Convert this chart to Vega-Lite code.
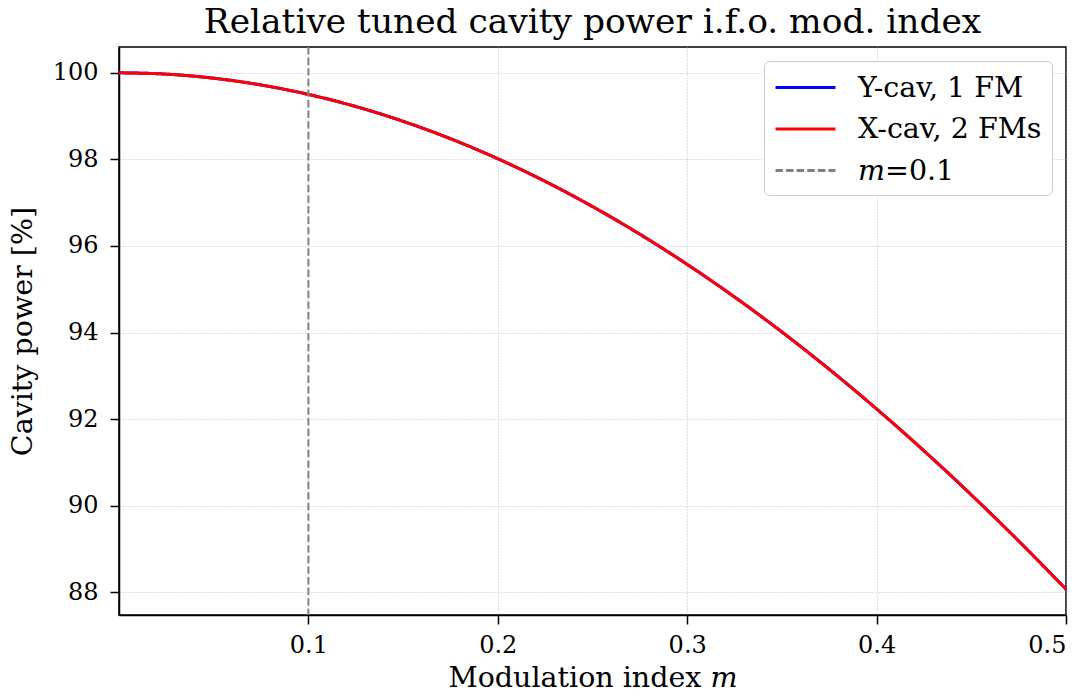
{
  "$schema": "https://vega.github.io/schema/vega-lite/v6.json",
  "autosize": "none",
  "padding": {"left": 119, "top": 47, "right": 25, "bottom": 82},
  "width": 947,
  "height": 568,
  "background": "white",
  "title": {"text": "Relative tuned cavity power i.f.o. mod. index", "font": "DejaVu Serif", "fontSize": 34.4, "fontWeight": "normal", "color": "black", "offset": 6},
  "config": {
    "view": {"stroke": "black", "strokeWidth": 1.5},
    "axis": {"labelFont": "DejaVu Serif", "labelFontSize": 24, "labelColor": "black", "titleFont": "DejaVu Serif", "titleFontSize": 28.5, "titleFontWeight": "normal", "titleColor": "black", "domainColor": "black", "domainWidth": 1.5, "tickColor": "black", "tickSize": 9, "tickWidth": 1.5, "gridColor": "#b0b0b0", "gridDash": [1, 2], "gridWidth": 0.8, "labelPadding": 6}
  },
  "datasets": {
    "curve": [
      {"m": 0.0, "P": 100.0},
      {"m": 0.025, "P": 99.969},
      {"m": 0.05, "P": 99.875},
      {"m": 0.075, "P": 99.719},
      {"m": 0.1, "P": 99.501},
      {"m": 0.125, "P": 99.221},
      {"m": 0.15, "P": 98.880},
      {"m": 0.175, "P": 98.478},
      {"m": 0.2, "P": 98.015},
      {"m": 0.225, "P": 97.493},
      {"m": 0.25, "P": 96.911},
      {"m": 0.275, "P": 96.272},
      {"m": 0.3, "P": 95.575},
      {"m": 0.325, "P": 94.822},
      {"m": 0.35, "P": 94.014},
      {"m": 0.375, "P": 93.152},
      {"m": 0.4, "P": 92.236},
      {"m": 0.425, "P": 91.270},
      {"m": 0.45, "P": 90.252},
      {"m": 0.475, "P": 89.186},
      {"m": 0.5, "P": 88.073}
    ]
  },
  "layer": [
    {
      "data": {"name": "curve"},
      "transform": [{"calculate": "'Y-cav, 1 FM'", "as": "series"}],
      "mark": {"type": "line", "strokeWidth": 3, "interpolate": "monotone"},
      "encoding": {
        "x": {"field": "m", "type": "quantitative", "scale": {"domain": [0, 0.5], "nice": false, "zero": false}, "axis": {"values": [0.1, 0.2, 0.3, 0.4, 0.5], "format": ".1f", "title": "Modulation index 𝑚", "titlePadding": 6, "labelPadding": 9}},
        "y": {"field": "P", "type": "quantitative", "scale": {"domain": [87.477, 100.596], "nice": false, "zero": false}, "axis": {"values": [88, 90, 92, 94, 96, 98, 100], "title": "Cavity power [%]", "titlePadding": 15, "labelPadding": 12}},
        "color": {"field": "series", "type": "nominal", "scale": {"domain": ["Y-cav, 1 FM", "X-cav, 2 FMs", "𝑚=0.1"], "range": ["#0000ff", "#ff0000", "#808080"]}, "legend": {"title": null, "orient": "top-right", "offset": 14, "symbolType": "M-1,0H3", "symbolSize": 900, "symbolStrokeWidth": 3, "labelFont": "DejaVu Serif", "labelFontSize": 28.5, "labelColor": "black", "labelOffset": 51, "rowPadding": 10.5, "padding": 10, "strokeColor": "#cccccc", "fillColor": "white", "cornerRadius": 5, "labelLimit": 400}},
        "strokeDash": {"field": "series", "type": "nominal", "scale": {"domain": ["Y-cav, 1 FM", "X-cav, 2 FMs", "𝑚=0.1"], "range": [[1, 0], [1, 0], [7.4, 3.2]]}, "legend": {"title": null, "orient": "top-right", "offset": 14, "symbolType": "M-1,0H3", "symbolSize": 900, "symbolStrokeWidth": 3, "labelFont": "DejaVu Serif", "labelFontSize": 28.5, "labelColor": "black", "labelOffset": 51, "rowPadding": 10.5, "padding": 10, "strokeColor": "#cccccc", "fillColor": "white", "cornerRadius": 5, "labelLimit": 400}}
      }
    },
    {
      "data": {"name": "curve"},
      "transform": [{"calculate": "'X-cav, 2 FMs'", "as": "series"}],
      "mark": {"type": "line", "strokeWidth": 3, "interpolate": "monotone"},
      "encoding": {
        "x": {"field": "m", "type": "quantitative"},
        "y": {"field": "P", "type": "quantitative"},
        "color": {"field": "series", "type": "nominal"},
        "strokeDash": {"field": "series", "type": "nominal"}
      }
    },
    {
      "data": {"values": [{"m": 0.1, "series": "𝑚=0.1"}]},
      "mark": {"type": "rule", "strokeWidth": 2},
      "encoding": {
        "x": {"field": "m", "type": "quantitative"},
        "color": {"field": "series", "type": "nominal"},
        "strokeDash": {"field": "series", "type": "nominal"}
      }
    }
  ]
}
